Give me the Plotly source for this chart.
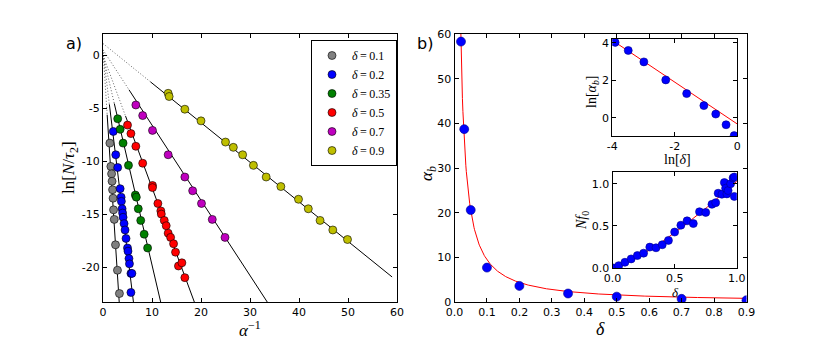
import numpy as np
import plotly.graph_objects as go

# ---------------- data: panel a) ----------------
deltas = ["0.1", "0.2", "0.35", "0.5", "0.7", "0.9"]
colors = ["#808080", "#0000ff", "#008000", "#ff0000", "#bf00bf", "#bfbf00"]

x_d01 = [1.4, 1.6, 1.75, 1.85, 1.95, 2.05, 2.15, 2.3, 2.55, 2.95, 3.35]
y_d01 = [-8.3, -10.5, -11.2, -11.9, -12.7, -13.5, -14.6, -15.5, -17.9, -20.3, -22.5]

x_d02 = [2.1, 2.6, 3.0, 3.5, 3.7, 3.75, 3.9, 4.0, 4.1, 4.3, 4.5, 4.7, 5.0, 5.1, 5.3, 5.4, 5.7, 5.9, 5.7]
y_d02 = [-7.2, -9.4, -10.6, -12.6, -13.4, -13.8, -14.5, -14.9, -15.3, -15.9, -16.5, -17.3, -18.2, -18.5,
         -19.2, -19.7, -20.6, -20.6, -22.4]

x_d035 = [3.0, 3.5, 4.1, 5.2, 6.6, 6.8, 7.2, 7.7, 8.4, 9.1]
y_d035 = [-6.0, -7.0, -8.3, -10.4, -13.2, -13.4, -14.5, -15.6, -16.9, -18.2]

x_d05 = [5.0, 5.7, 6.7, 8.1, 10.1, 10.1, 11.2, 11.8, 11.9, 12.5, 12.9, 13.3, 13.8, 14.4, 14.8, 15.4, 16.1, 16.7]
y_d05 = [-6.6, -7.4, -8.6, -10.2, -12.3, -12.5, -14.0, -14.7, -15.0, -15.6, -16.1, -16.8, -17.2, -17.8,
         -18.6, -19.9, -19.6, -21.0]

x_d07 = [6.7, 8.1, 10.1, 13.3, 16.7, 18.3, 20.1, 22.3, 24.9]
y_d07 = [-4.7, -5.7, -7.1, -9.4, -11.5, -12.8, -14.0, -15.5, -17.2]

x_d09 = [13.3, 13.5, 16.7, 20.0, 25.0, 26.6, 28.5, 30.7, 33.3, 36.3, 39.9, 41.9, 44.3, 46.9, 49.9]
y_d09 = [-3.6, -3.9, -5.1, -6.2, -8.2, -8.7, -9.4, -10.4, -11.5, -12.4, -13.6, -14.5, -15.6, -16.5, -17.4]

xs_a = [x_d01, x_d02, x_d035, x_d05, x_d07, x_d09]
ys_a = [y_d01, y_d02, y_d035, y_d05, y_d07, y_d09]

# linear fits ln[N/tau2] = c + s * alpha^-1
fit_intercept = [0.5, 0.3, 0.0, 0.0, 0.5, 1.1]
fit_slope = [-7.2, -3.8, -1.98, -1.25, -0.71, -0.3735]
fit_solid_from = [0.85, 1.3, 2.3, 4.6, 5.3, 9.7]
fit_x_end = 59.0

# ---------------- data: panel b) ----------------
delta_b = [0.02, 0.03, 0.05, 0.1, 0.2, 0.35, 0.5, 0.7, 0.9]
alpha_b = [58.3, 38.7, 20.6, 7.7, 3.6, 1.9, 1.2, 0.7, 0.4]
ln_delta_b = [-3.91, -3.49, -2.99, -2.29, -1.62, -1.07, -0.69, -0.36, -0.10]
ln_alpha_b = [4.03, 3.60, 2.99, 2.03, 1.30, 0.66, 0.21, -0.36, -0.94]
fit_A, fit_p = 0.726, 1.115

delta_f = [0.01, 0.05, 0.10, 0.15, 0.20, 0.25, 0.30, 0.35, 0.40, 0.45, 0.50, 0.55, 0.60, 0.65, 0.70,
           0.75, 0.80, 0.83, 0.85, 0.88, 0.90, 0.91, 0.92, 0.93, 0.95, 0.97, 0.98, 0.98]
Nf0 = [0.0, 0.028, 0.068, 0.108, 0.148, 0.176, 0.248, 0.24, 0.276, 0.328, 0.427, 0.508, 0.56, 0.528,
       0.668, 0.66, 0.756, 0.776, 0.888, 0.876, 1.015, 0.948, 0.88, 0.92, 1.0, 1.07, 1.08, 0.85]
fit_B, fit_q = 1.03, 1.3

# ---------------- figure ----------------
W, H = 830, 346
def px(x): return x / W
def py(y): return 1 - y / H

fig = go.Figure()

# fit lines panel a
for c, s, x0 in zip(fit_intercept, fit_slope, fit_solid_from):
    xd = np.array([0.0, x0])
    fig.add_trace(go.Scatter(x=xd, y=c + s * xd, mode="lines",
                             line=dict(color="#666666", width=1, dash="1px,2px"),
                             showlegend=False, hoverinfo="skip", xaxis="x", yaxis="y"))
    xs = np.array([x0, fit_x_end])
    fig.add_trace(go.Scatter(x=xs, y=c + s * xs, mode="lines", line=dict(color="black", width=1),
                             showlegend=False, hoverinfo="skip", xaxis="x", yaxis="y"))

for d, col, xv, yv in zip(deltas, colors, xs_a, ys_a):
    fig.add_trace(go.Scatter(x=xv, y=yv, mode="markers", name="<i>δ</i>\u2009=\u2009" + d,
                             marker=dict(color=col, size=8, line=dict(color="black", width=0.6)),
                             xaxis="x", yaxis="y"))

# panel b main
dgrid = np.linspace(0.005, 0.9, 600)
fig.add_trace(go.Scatter(x=dgrid, y=fit_A * dgrid ** (-fit_p), mode="lines", line=dict(color="red", width=1),
                         showlegend=False, xaxis="x2", yaxis="y2"))
fig.add_trace(go.Scatter(x=delta_b, y=alpha_b, mode="markers", showlegend=False,
                         marker=dict(color="#0000ff", size=9, line=dict(color="#00008b", width=0.6)),
                         xaxis="x2", yaxis="y2"))

# inset top
lg = np.array([-4.0, 0.0])
fig.add_trace(go.Scatter(x=lg, y=np.log(fit_A) - fit_p * lg, mode="lines", line=dict(color="red", width=1),
                         showlegend=False, xaxis="x3", yaxis="y3"))
fig.add_trace(go.Scatter(x=ln_delta_b, y=ln_alpha_b, mode="markers", showlegend=False,
                         marker=dict(color="#0000ff", size=8, line=dict(color="#00008b", width=0.6)),
                         xaxis="x3", yaxis="y3"))

# inset bottom
fg = np.linspace(0, 1, 200)
fig.add_trace(go.Scatter(x=fg, y=fit_B * fg ** fit_q, mode="lines", line=dict(color="red", width=1),
                         showlegend=False, xaxis="x4", yaxis="y4"))
fig.add_trace(go.Scatter(x=delta_f, y=Nf0, mode="markers", showlegend=False,
                         marker=dict(color="#0000ff", size=8, line=dict(color="#00008b", width=0.6)),
                         xaxis="x4", yaxis="y4"))

tickfont = dict(family="DejaVu Sans", size=11, color="black")
ax_common = dict(showline=True, linecolor="black", linewidth=1, mirror="ticks", ticks="inside",
                 ticklen=4, tickcolor="black", showgrid=False, zeroline=False, tickfont=tickfont)

fig.update_layout(
    width=W, height=H, margin=dict(l=0, r=0, t=0, b=0, autoexpand=False),
    paper_bgcolor="white", plot_bgcolor="white",
    xaxis=dict(domain=[px(103), px(397)], range=[0, 60], tickvals=[0, 10, 20, 30, 40, 50, 60],
               anchor="y", **ax_common),
    yaxis=dict(domain=[py(302), py(34)], range=[-23.3, 2.0], tickvals=[0, -5, -10, -15, -20],
               ticktext=["0", "-5", "-10", "-15", "-20"], anchor="x", **ax_common),
    xaxis2=dict(domain=[px(454.5), px(746.5)], range=[0, 0.9],
                tickvals=[0, 0.1, 0.2, 0.3, 0.4, 0.5, 0.6, 0.7, 0.8, 0.9],
                ticktext=["0.0", "0.1", "0.2", "0.3", "0.4", "0.5", "0.6", "0.7", "0.8", "0.9"],
                anchor="y2", **ax_common),
    yaxis2=dict(domain=[py(302), py(34)], range=[0, 60], tickvals=[0, 10, 20, 30, 40, 50, 60],
                anchor="x2", **ax_common),
    xaxis3=dict(domain=[px(612.3), px(737.3)], range=[-4, 0], tickvals=[-4, -2, 0],
                ticktext=["-4", "-2", "0"], anchor="y3", **ax_common),
    yaxis3=dict(domain=[py(136), py(39)], range=[-0.96, 4.21], tickvals=[0, 2, 4],
                anchor="x3", **ax_common),
    xaxis4=dict(domain=[px(612.5), px(736.8)], range=[0, 1.0], tickvals=[0, 0.5, 1.0],
                ticktext=["0.0", "0.5", "1.0"], anchor="y4", **ax_common),
    yaxis4=dict(domain=[py(268), py(172)], range=[0, 1.14], tickvals=[0, 0.5, 1.0],
                ticktext=["0.0", "0.5", "1.0"], anchor="x4", **ax_common),
    legend=dict(x=px(311), y=py(40), xanchor="left", yanchor="top", bgcolor="white",
                bordercolor="black", borderwidth=1, tracegroupgap=0, itemwidth=30,
                font=dict(family="Liberation Serif", size=12, color="black")),
    showlegend=True,
)

serif = "Liberation Serif"
def ann(text, x, y, size=16, angle=0, family=serif):
    fig.add_annotation(text=text, x=px(x), y=py(y), xref="paper", yref="paper", showarrow=False,
                       textangle=angle, font=dict(family=family, size=size, color="black"),
                       xanchor="center", yanchor="middle")

ann("a)", 74, 43, size=16, family="DejaVu Sans")
ann("b)", 425, 43, size=16, family="DejaVu Sans")
ann("ln[<i>N</i>/<i>τ</i><sub>2</sub>]", 70, 168, size=17, angle=-90)
ann("<i>α</i><sup>−1</sup>", 250, 329, size=17)
ann("<i>α</i><sub><i>b</i></sub>", 428, 174, size=17, angle=-90)
ann("<i>δ</i>", 600, 329, size=18)
ann("ln[<i>α</i><sub><i>b</i></sub>]", 593, 92, size=14, angle=-90)
ann("ln[<i>δ</i>]", 677, 159, size=14)
ann("<i>Nf</i><sub>0</sub>", 582, 221, size=14, angle=-90)
ann("<i>δ</i>", 675, 292, size=13)

fig.write_html("out.html", config={"displayModeBar": False},
               post_script="document.body.style.margin='0';")
